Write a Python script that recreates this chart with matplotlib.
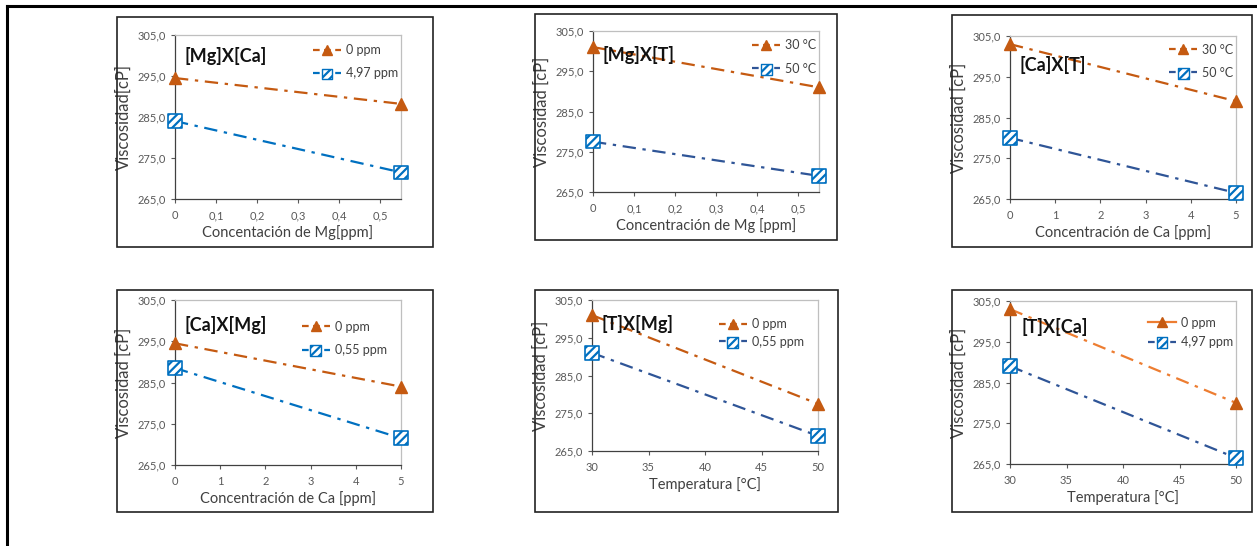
import matplotlib.pyplot as plt
from matplotlib.lines import Line2D
from matplotlib.patches import Rectangle
from matplotlib.legend_handler import HandlerTuple
from matplotlib.ticker import FuncFormatter

plt.rcParams['font.family'] = ['Lato', 'DejaVu Sans']
plt.rcParams['hatch.linewidth'] = 1.6

W, H = 1257, 546

# data
x_mg = [0, 0.55]
x_ca = [0, 5]
x_t = [30, 50]

mgca_0 = [294.5, 288.2]
mgca_497 = [284.0, 271.5]
mgt_30 = [301.0, 291.0]
mgt_50 = [277.5, 269.0]
cat_30 = [303.0, 289.0]
cat_50 = [280.0, 266.5]
camg_0 = [294.5, 284.0]
camg_055 = [288.5, 271.5]
tmg_0 = [301.0, 277.5]
tmg_055 = [291.0, 269.0]
tca_0 = [303.0, 280.0]
tca_497 = [289.0, 266.5]

ORANGE = '#C55A11'
ORANGE_L = '#ED7D31'
BLUE_L = '#0070C0'
BLUE_D = '#2F5597'

panels = [
    dict(frame=(117, 17, 433, 247), ax=(175, 35, 401, 199), x=x_mg, y1=mgca_0, y2=mgca_497,
         lab=('0 ppm', '4,97 ppm'), title='[Mg]X[Ca]', xlabel='Concentación de Mg[ppm]',
         ylabel='Viscosidad[cP]', xticks=[0, 0.1, 0.2, 0.3, 0.4, 0.5], xlim=(0, 0.55),
         c1=ORANGE, c2=BLUE_L, tpos=(0.04, 0.87), lpos=(1.02, 0.99), sp=0.9, solid=False),
    dict(frame=(535, 14, 837, 240), ax=(593, 31, 819, 192), x=x_mg, y1=mgt_30, y2=mgt_50,
         lab=('30 °C', '50 °C'), title='[Mg]X[T]', xlabel='Concentración de Mg [ppm]',
         ylabel='Viscosidad [cP]', xticks=[0, 0.1, 0.2, 0.3, 0.4, 0.5], xlim=(0, 0.55),
         c1=ORANGE, c2=BLUE_D, tpos=(0.04, 0.85), lpos=(1.02, 0.995), sp=0.9, solid=False),
    dict(frame=(952, 15, 1252, 247), ax=(1010, 36, 1236, 199), x=x_ca, y1=cat_30, y2=cat_50,
         lab=('30 °C', '50 °C'), title='[Ca]X[T]', xlabel='Concentración de Ca [ppm]',
         ylabel='Viscosidad [cP]', xticks=[0, 1, 2, 3, 4, 5], xlim=(0, 5),
         c1=ORANGE, c2=BLUE_D, tpos=(0.04, 0.82), lpos=(1.02, 1.0), sp=0.9, solid=False),
    dict(frame=(117, 290, 433, 512), ax=(175, 300, 401, 465), x=x_ca, y1=camg_0, y2=camg_055,
         lab=('0 ppm', '0,55 ppm'), title='[Ca]X[Mg]', xlabel='Concentración de Ca [ppm]',
         ylabel='Viscosidad [cP]', xticks=[0, 1, 2, 3, 4, 5], xlim=(0, 5),
         c1=ORANGE, c2=BLUE_L, tpos=(0.04, 0.85), lpos=(0.97, 0.92), sp=0.9, solid=False),
    dict(frame=(535, 290, 838, 512), ax=(592, 300, 818, 451), x=x_t, y1=tmg_0, y2=tmg_055,
         lab=('0 ppm', '0,55 ppm'), title='[T]X[Mg]', xlabel='Temperatura [°C]',
         ylabel='Viscosidad [cP]', xticks=[30, 35, 40, 45, 50], xlim=(30, 50),
         c1=ORANGE, c2=BLUE_D, tpos=(0.04, 0.84), lpos=(0.97, 0.93), sp=0.45, solid=False),
    dict(frame=(952, 290, 1252, 512), ax=(1010, 301, 1236, 464), x=x_t, y1=tca_0, y2=tca_497,
         lab=('0 ppm', '4,97 ppm'), title='[T]X[Ca]', xlabel='Temperatura [°C]',
         ylabel='Viscosidad [cP]', xticks=[30, 35, 40, 45, 50], xlim=(30, 50),
         c1=ORANGE_L, c2=BLUE_D, tpos=(0.05, 0.84), lpos=(1.02, 0.95), sp=0.6, solid=True),
]


def fbox(l, t, r, b):
    return [l / W, 1 - b / H, (r - l) / W, (b - t) / H]


fig = plt.figure(figsize=(W / 100, H / 100), dpi=100)

# outer border (top and left)
fig.add_artist(Line2D([7 / W, 1], [1 - 6 / H, 1 - 6 / H], color='black', lw=2.2))
fig.add_artist(Line2D([7 / W, 7 / W], [0, 1 - 6 / H], color='black', lw=2.2))

comma = FuncFormatter(lambda v, p: f'{v:.1f}'.replace('.', ','))
commax = FuncFormatter(lambda v, p: ('0' if v == 0 else f'{v:g}'.replace('.', ',')))

for p in panels:
    l, t, r, b = p['frame']
    fig.add_artist(Rectangle((l / W, 1 - b / H), (r - l) / W, (b - t) / H,
                             transform=fig.transFigure, fill=False,
                             edgecolor='#222222', lw=1.2))
    ax = fig.add_axes(fbox(*p['ax']))
    ax.plot(p['x'], p['y1'], linestyle='-.', dashes=(6, 3, 1.5, 3), color=p['c1'], lw=1.6,
            zorder=2)
    ax.plot(p['x'], p['y2'], linestyle='-.', dashes=(6, 3, 1.5, 3), color=p['c2'], lw=1.6,
            zorder=2)
    ax.plot(p['x'], p['y1'], linestyle='none', marker='^', markersize=9,
            color=ORANGE, zorder=4, clip_on=False)
    ax.scatter(p['x'], p['y2'], marker='s', s=95, facecolor='white',
               edgecolor=BLUE_L, hatch='////', linewidth=1.2, zorder=4, clip_on=False)
    ax.set_xlim(*p['xlim'])
    ax.set_ylim(265, 305)
    ax.set_yticks([265, 275, 285, 295, 305])
    ax.set_xticks(p['xticks'])
    ax.yaxis.set_major_formatter(comma)
    ax.xaxis.set_major_formatter(commax)
    ax.tick_params(labelsize=8, colors='#595959', length=3, width=0.8)
    ax.tick_params(axis='x', pad=5)
    for s in ax.spines.values():
        s.set_color('#BFBFBF')
        s.set_linewidth(0.9)
    ax.spines['left'].set_color('#404040')
    ax.spines['bottom'].set_color('#404040')
    ax.set_xlabel(p['xlabel'], fontsize=10.5, color='#404040', labelpad=3)
    ax.set_ylabel(p['ylabel'], fontsize=12, color='#404040', labelpad=4)
    ax.text(p['tpos'][0], p['tpos'][1], p['title'], transform=ax.transAxes,
            fontsize=13, fontweight='bold', color='#111111', zorder=5, va='center')

    ls1 = '-' if p['solid'] else (0, (3, 2))
    h1 = Line2D([], [], color=p['c1'], linestyle=ls1, lw=1.6, marker='^',
                markersize=7, markerfacecolor=ORANGE, markeredgecolor=ORANGE)
    h2a = Line2D([], [], color=p['c2'], linestyle=(0, (3, 2)), lw=1.6)
    h2b = ax.scatter([], [], marker='s', s=60, facecolor='white', edgecolor=BLUE_L,
                     hatch='////', linewidth=1.0)
    ax.legend([h1, (h2a, h2b)], list(p['lab']), handler_map={tuple: HandlerTuple()},
              loc='upper right', bbox_to_anchor=p['lpos'], frameon=False,
              fontsize=9, handlelength=2.2, labelcolor='#404040',
              borderaxespad=0.2, labelspacing=p['sp'], handletextpad=0.4)

fig.savefig('out.png', dpi=100)
